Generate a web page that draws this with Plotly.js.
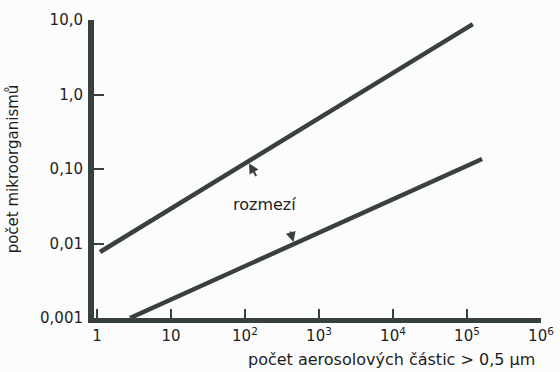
<!DOCTYPE html>
<html>
<head>
<meta charset="utf-8">
<script src="https://cdn.plot.ly/plotly-3.0.1.min.js"></script>
<style>html,body{margin:0;padding:0;background:#fcfcfc;}#chart{width:560px;height:372px;}</style>
</head>
<body>
<div id="chart"></div>
<script>
// Data (log-log)
var upperX = [1.1, 1.2e5];
var upperY = [0.0077, 8.8];
var lowerX = [2.8, 1.6e5];
var lowerY = [0.001, 0.136];

var xTickVals = [1, 10, 100, 1000, 10000, 100000, 1000000];
var xTickText = ['1', '10', '10<sup>2</sup>', '10<sup>3</sup>', '10<sup>4</sup>', '10<sup>5</sup>', '10<sup>6</sup>'];
var yTickVals = [0.001, 0.01, 0.1, 1, 10];
var yTickText = ['0,001', '0,01', '0,10', '1,0', '10,0'];

var lineColor = '#394040';
var textColor = '#1e1e1e';
var font = 'DejaVu Sans, sans-serif';

function yOnLine(xs, ys, x) {
  var lx0 = Math.log10(xs[0]), lx1 = Math.log10(xs[1]);
  var ly0 = Math.log10(ys[0]), ly1 = Math.log10(ys[1]);
  var t = (Math.log10(x) - lx0) / (lx1 - lx0);
  return ly0 + t * (ly1 - ly0);
}

var upperArrowX = 110;
var lowerArrowX = 460;

var traces = [
  {x: upperX, y: upperY, mode: 'lines', line: {color: lineColor, width: 4.5}, hoverinfo: 'skip'},
  {x: lowerX, y: lowerY, mode: 'lines', line: {color: lineColor, width: 4.5}, hoverinfo: 'skip'}
];

var layout = {
  width: 560, height: 372,
  margin: {l: 94, r: 19, t: 20, b: 54},
  paper_bgcolor: '#fcfcfc', plot_bgcolor: '#fcfcfc',
  showlegend: false,
  font: {family: font, color: textColor, size: 15},
  xaxis: {
    type: 'log', range: [-0.04, 6.0],
    tickvals: xTickVals, ticktext: xTickText,
    ticks: 'inside', ticklen: 9, tickwidth: 2, tickcolor: lineColor,
    ticklabelstandoff: 0,
    showline: true, linewidth: 5, linecolor: lineColor,
    showgrid: false, zeroline: false,
    tickfont: {family: font, size: 15, color: textColor}
  },
  yaxis: {
    type: 'log', range: [-3, 1.0],
    tickvals: yTickVals, ticktext: yTickText,
    ticks: 'inside', ticklen: 10, tickwidth: 2, tickcolor: lineColor,
    ticklabelstandoff: 2,
    showline: true, linewidth: 6, linecolor: lineColor,
    showgrid: false, zeroline: false,
    tickfont: {family: font, size: 15, color: textColor},
    title: {text: 'počet mikroorganismů', font: {family: font, size: 15, color: textColor}, standoff: 20}
  },
  annotations: [
    {xref: 'paper', yref: 'paper', x: 0.665, y: -0.102, xanchor: 'center', yanchor: 'top',
     text: 'počet aerosolových částic > 0,5 μm', showarrow: false,
     font: {family: font, size: 16, color: textColor}},
    {xref: 'x', yref: 'y', x: Math.log10(185), y: Math.log10(0.033),
     text: 'rozmezí', showarrow: false, font: {family: font, size: 16, color: textColor}},
    {xref: 'x', yref: 'y', x: Math.log10(upperArrowX), y: yOnLine(upperX, upperY, upperArrowX),
     text: '', showarrow: true, ax: 9, ay: 16, arrowhead: 2, arrowsize: 1, arrowwidth: 2, arrowcolor: lineColor, standoff: 2},
    {xref: 'x', yref: 'y', x: Math.log10(lowerArrowX), y: yOnLine(lowerX, lowerY, lowerArrowX),
     text: '', showarrow: true, ax: -4, ay: -14, arrowhead: 2, arrowsize: 1, arrowwidth: 2, arrowcolor: lineColor, standoff: 2}
  ]
};

Plotly.newPlot('chart', traces, layout, {displayModeBar: false, staticPlot: true});
</script>
</body>
</html>
